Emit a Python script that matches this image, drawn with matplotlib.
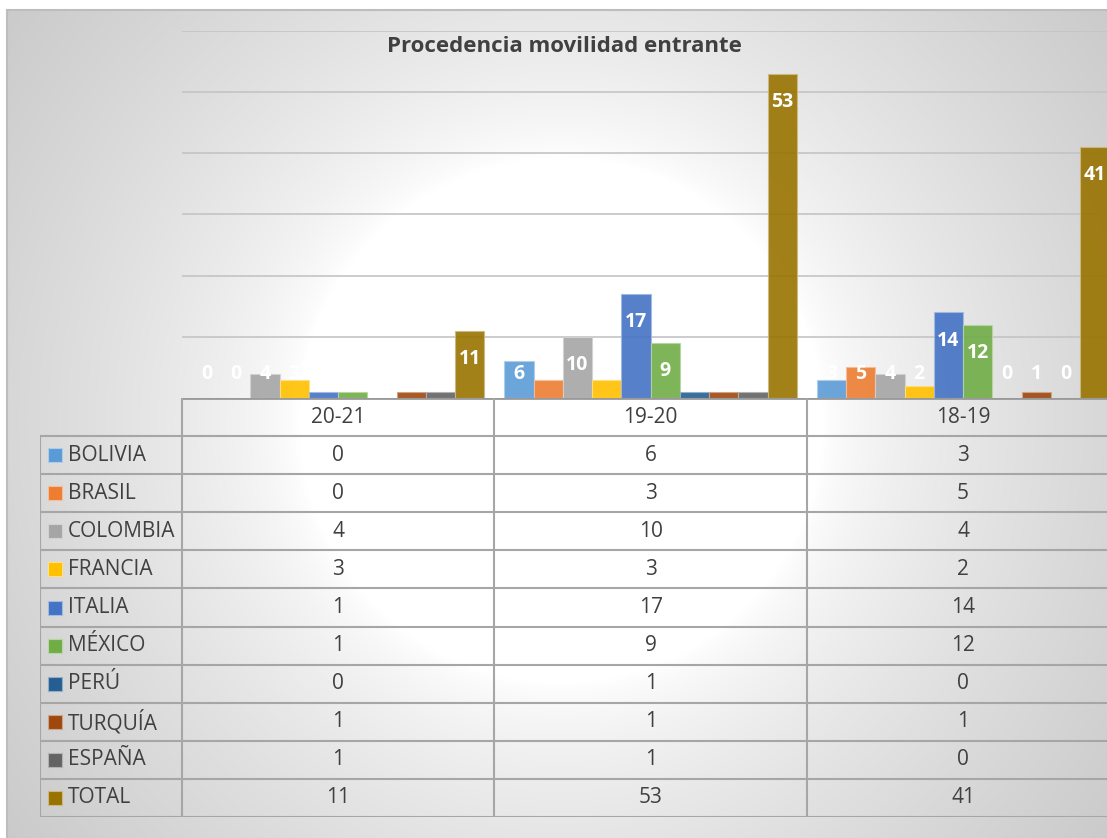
import numpy as np
import matplotlib
matplotlib.use("Agg")
import matplotlib.pyplot as plt
from matplotlib.colors import to_rgb

plt.rcParams['font.family'] = ['Open Sans', 'DejaVu Sans']

# data
categories = ['20-21', '19-20', '18-19']
series = ['BOLIVIA', 'BRASIL', 'COLOMBIA', 'FRANCIA', 'ITALIA',
          'MÉXICO', 'PERÚ', 'TURQUÍA', 'ESPAÑA', 'TOTAL']
bolivia = [0, 6, 3]
brasil = [0, 3, 5]
colombia = [4, 10, 4]
francia = [3, 3, 2]
italia = [1, 17, 14]
mexico = [1, 9, 12]
peru = [0, 1, 0]
turquia = [1, 1, 1]
espana = [1, 1, 0]
total = [11, 53, 41]
values = [bolivia, brasil, colombia, francia, italia, mexico, peru, turquia, espana, total]
colors = ['#5B9BD5', '#ED7D31', '#A5A5A5', '#FFC000', '#4472C4',
          '#70AD47', '#255E91', '#9E480E', '#636363', '#997300']

W, H = 1107, 838
TXT = '#404040'
LINE = '#a6a6a6'


def box(x0, y0, x1, y1):
    return [x0 / W, 1 - y1 / H, (x1 - x0) / W, (y1 - y0) / H]


fig = plt.figure(figsize=(W / 100, H / 100), dpi=100)
fig.patch.set_facecolor('white')

# chart area background: radial grey -> white
bg = fig.add_axes(box(7, 10, 1125, 850), zorder=0)
xx, yy = np.meshgrid(np.arange(7, 1125, 2), np.arange(10, 850, 2))
d = np.sqrt(((xx - 560) / 560.0) ** 2 + ((yy - 420) / 560.0) ** 2)
g = 1 - 0.24 * np.clip((d - 0.47) / 0.95, 0, 1) ** 0.7
bg.imshow(np.dstack([g, g, g]), extent=(7, 1125, 850, 10), aspect='auto',
          interpolation='bilinear')
bg.set_xlim(7, 1125)
bg.set_ylim(850, 10)
bg.set_xticks([])
bg.set_yticks([])
for side in ['right', 'bottom']:
    bg.spines[side].set_visible(False)
for side in ['left', 'top']:
    bg.spines[side].set_color('#bdbdbd')
    bg.spines[side].set_linewidth(1.5)

fig.text(564 / W, 1 - 47 / H, 'Procedencia movilidad entrante', ha='center',
         va='center', fontsize=16, fontweight='bold', color=TXT)

# bars
ax = fig.add_axes(box(182, 31, 1119.3, 398), zorder=2)
ax.set_facecolor('none')
ax.set_xlim(-0.5, 2.5)
ax.set_ylim(0, 60)
ax.set_yticks(np.arange(10, 61, 10))
ax.yaxis.grid(True, color='#c4c4c4', lw=1.2)
ax.set_axisbelow(True)
ax.tick_params(left=False, bottom=False, labelleft=False, labelbottom=False)
for s in ax.spines.values():
    s.set_visible(False)

n = len(series)
bw = 0.0936
x = np.arange(len(categories))
for j, (name, vals, c) in enumerate(zip(series, values, colors)):
    pos = x - n * bw / 2 + (j + 0.5) * bw
    edge = tuple(0.5 * a + 0.5 for a in to_rgb(c))
    bars = ax.bar(pos, vals, width=bw, color=c, alpha=0.9, edgecolor=edge, lw=0.8)
    for b, v in zip(bars, vals):
        if v == 0:
            b.set_visible(False)
    for p, v in zip(pos, vals):
        ax.text(p, max(v - 4.6, 3.9), str(v), ha='center', va='center',
                color='white', fontsize=14, fontweight='bold', zorder=5)

# data table
xl = -0.5 - 142 / 312.43
tb = fig.add_axes(box(40, 398, 1119.3, 817), zorder=3)
tb.set_facecolor('none')
tb.set_xlim(xl, 2.5)
tb.set_ylim(11, 0)
tb.axis('off')
tb.plot([-0.5, 2.5], [0, 0], color='#999999', lw=2)
for r in range(1, 12):
    tb.plot([xl, 2.5], [r, r], color=LINE, lw=1.5)
for cx in [-0.5, 0.5, 1.5]:
    tb.plot([cx, cx], [0, 11], color=LINE, lw=1.5)
tb.plot([xl, xl], [1, 11], color=LINE, lw=1.5)

for i, cat in enumerate(categories):
    tb.text(i, 0.5, cat, ha='center', va='center', fontsize=15, color=TXT)
for j, (name, vals, c) in enumerate(zip(series, values, colors)):
    r = j + 1.5
    edge = tuple(0.5 * a + 0.5 for a in to_rgb(c))
    tb.scatter([xl + 15 / 312.43], [r], marker='s', s=95, color=c,
               edgecolors=[edge], linewidths=0.8)
    tb.text(xl + 28 / 312.43, r, name, ha='left', va='center', fontsize=15, color=TXT)
    for i, v in enumerate(vals):
        tb.text(i, r, str(v), ha='center', va='center', fontsize=15, color=TXT)

fig.savefig('out.png', dpi=100)
